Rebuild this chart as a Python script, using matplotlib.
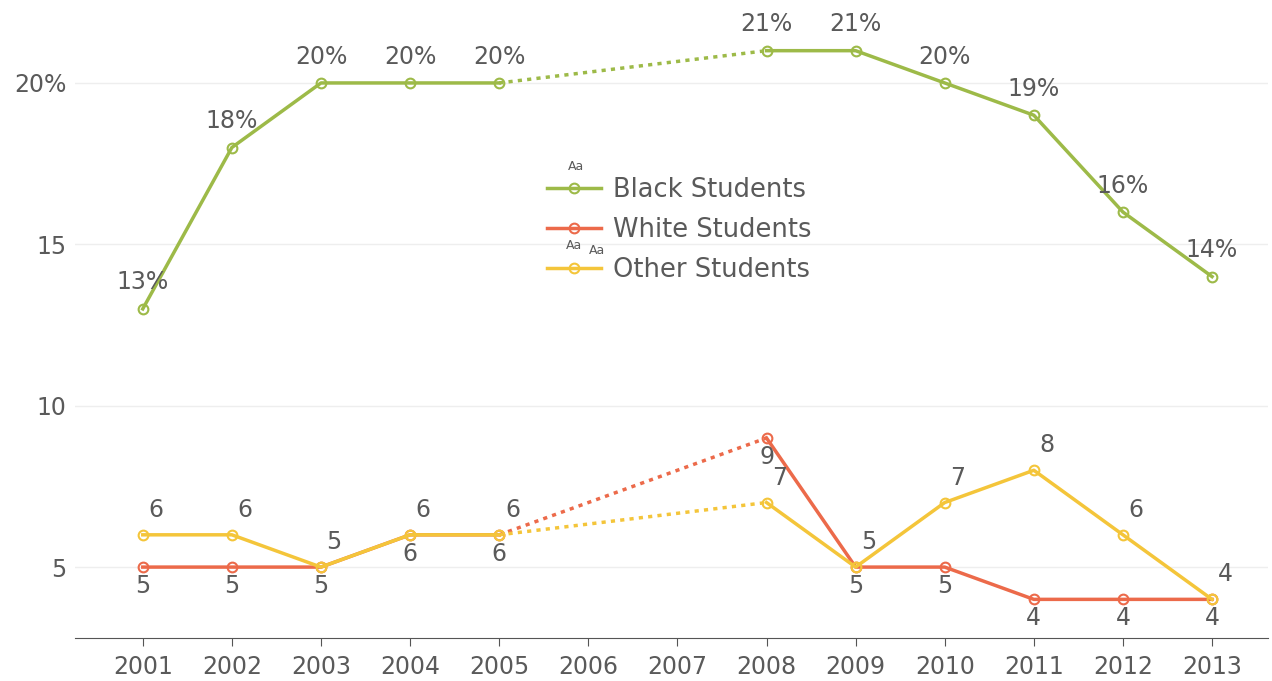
import matplotlib.pyplot as plt

years = [2001, 2002, 2003, 2004, 2005, 2008, 2009, 2010, 2011, 2012, 2013]
black = [13, 18, 20, 20, 20, 21, 21, 20, 19, 16, 14]
white = [5, 5, 5, 6, 6, 9, 5, 5, 4, 4, 4]
other = [6, 6, 5, 6, 6, 7, 5, 7, 8, 6, 4]
x_ticks = list(range(2001, 2014))
y_ticks = [5, 10, 15, 20]
y_tick_labels = ['5', '10', '15', '20%']

green = '#9dba48'
red = '#ec6a4a'
yellow = '#f4c53a'
txt = '#5a5a5a'

plt.rcParams['font.family'] = ['DejaVu Sans']

W, H = 1272, 681
fig = plt.figure(figsize=(W / 100, H / 100), dpi=100)
ax = fig.add_axes([0.059, 0.063, 0.938, 0.937])


def draw_series(vals, color, label):
    # solid before the gap, dotted across it, solid after
    ax.plot(years[:5], vals[:5], color=color, lw=2.5, marker='o', ms=7,
            mfc='none', mec=color, mew=1.5, label=label, zorder=3)
    ax.plot(years[4:6], vals[4:6], color=color, lw=2.5, ls=(0, (1.2, 1.5)), zorder=2)
    ax.plot(years[5:], vals[5:], color=color, lw=2.5, marker='o', ms=7,
            mfc='none', mec=color, mew=1.5, zorder=3)


draw_series(black, green, 'Black Students')
draw_series(white, red, 'White Students')
draw_series(other, yellow, 'Other Students')

fs = 17
for x, v in zip(years, black):
    ax.annotate(f'{v}%', (x, v), xytext=(0, 19), textcoords='offset points',
                ha='center', va='center', fontsize=fs, color=txt)
for x, v in zip(years, white):
    ax.annotate(f'{v}', (x, v), xytext=(0, -13.5), textcoords='offset points',
                ha='center', va='center', fontsize=fs, color=txt)
for x, v in zip(years, other):
    ax.annotate(f'{v}', (x, v), xytext=(9.5, 18), textcoords='offset points',
                ha='center', va='center', fontsize=fs, color=txt)

ax.set_xlim(2000.24, 2013.63)
ax.set_ylim(2.8, 22.57)
ax.set_xticks(x_ticks)
ax.set_xticklabels([str(y) for y in x_ticks])
ax.set_yticks(y_ticks)
ax.set_yticklabels(y_tick_labels)
ax.grid(axis='y', color='#eeeeee', lw=1)
ax.set_axisbelow(True)
for s in ['top', 'right', 'left']:
    ax.spines[s].set_visible(False)
ax.spines['bottom'].set_color('#555555')
ax.tick_params(axis='x', colors='#555555', labelcolor=txt, labelsize=fs, length=6, pad=6)
ax.tick_params(axis='y', length=0, labelcolor=txt, labelsize=fs, pad=6)

leg = fig.legend(loc='center left', bbox_to_anchor=(547 / W, 1 - 230 / H), frameon=False,
                 fontsize=18.5, labelcolor=txt, handlelength=2.1, labelspacing=0.56,
                 handletextpad=0.45, borderpad=0, borderaxespad=0)

fig.text(576 / W, 1 - 167 / H, 'Aa', fontsize=9, color=txt, ha='center', va='center')
fig.text(574 / W, 1 - 246 / H, 'Aa', fontsize=9, color=txt, ha='center', va='center')
fig.text(597 / W, 1 - 250 / H, 'Aa', fontsize=9, color=txt, ha='center', va='center')

fig.savefig('out.png', dpi=100)
